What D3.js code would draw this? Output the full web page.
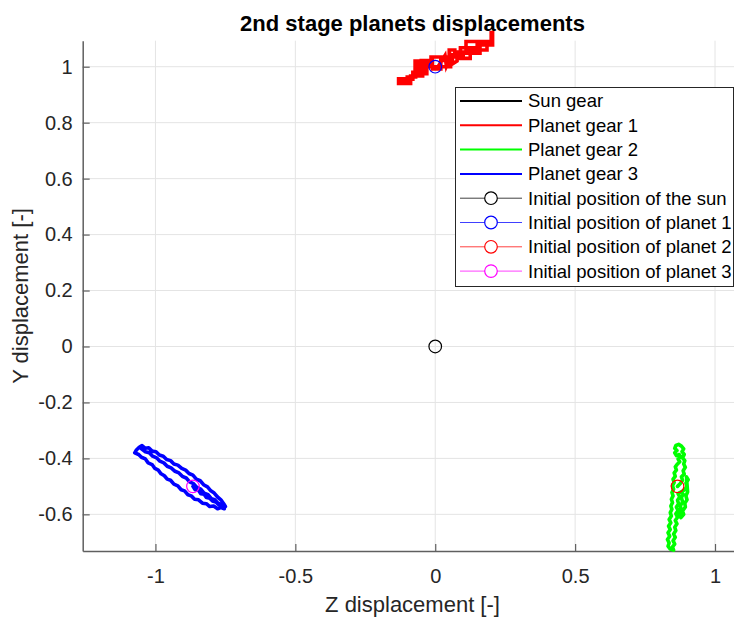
<!DOCTYPE html>
<html>
<head>
<meta charset="utf-8">
<script src="https://cdn.jsdelivr.net/npm/d3@7/dist/d3.min.js"></script>
<style>
  html, body { margin: 0; padding: 0; background: #fff; }
  svg { display: block; font-family: "Liberation Sans", Arial, Helvetica, sans-serif; }
</style>
</head>
<body>
<div id="chart"></div>
<script>
// Displacement traces of the 2nd stage gears, [Z, Y] pairs
const sunPath = [[0, 0], [0, 0]];

const planet1Path = [
  [0.000, 1.000], [-0.030, 1.000], [-0.030, 0.975], [-0.060, 0.975], [-0.060, 1.020],
  [-0.072, 1.020], [-0.072, 0.985], [-0.045, 0.985], [-0.045, 0.967], [-0.088, 0.967],
  [-0.088, 0.940], [-0.131, 0.940], [-0.131, 0.957], [-0.090, 0.957], [-0.090, 0.948],
  [-0.128, 0.948], [-0.128, 0.940], [-0.100, 0.940], [-0.100, 0.963], [-0.070, 0.963],
  [-0.070, 0.995], [-0.050, 0.995], [-0.050, 1.022], [-0.010, 1.022], [-0.010, 0.992],
  [0.020, 0.992], [0.020, 1.022], [0.055, 1.022], [0.055, 1.000], [0.010, 1.000],
  [0.035, 1.040], [0.040, 1.002], [0.060, 1.048], [0.062, 1.010], [0.078, 1.020],
  [0.078, 1.052], [0.125, 1.052], [0.125, 1.030], [0.090, 1.030], [0.090, 1.068],
  [0.150, 1.068], [0.150, 1.085], [0.185, 1.085], [0.185, 1.060], [0.110, 1.060],
  [0.110, 1.090], [0.200, 1.090], [0.200, 1.122], [0.205, 1.122], [0.205, 1.078],
  [0.160, 1.078], [0.160, 1.048], [0.100, 1.048], [0.100, 1.038], [0.050, 1.038],
  [0.050, 1.060], [0.070, 1.060], [0.070, 1.035], [0.020, 1.035], [-0.015, 1.035],
  [-0.015, 1.010], [-0.040, 1.010], [-0.040, 0.980], [-0.080, 0.980], [-0.080, 0.955],
  [-0.120, 0.955], [-0.120, 0.945]
];

const planet2Path = [
  [0.866, -0.500], [0.876, -0.490], [0.884, -0.478], [0.880, -0.466], [0.890, -0.456],
  [0.886, -0.444], [0.894, -0.432], [0.888, -0.420], [0.892, -0.408], [0.884, -0.398],
  [0.890, -0.386], [0.882, -0.376], [0.888, -0.366], [0.880, -0.356], [0.870, -0.350],
  [0.860, -0.354], [0.856, -0.364], [0.864, -0.372], [0.856, -0.380], [0.862, -0.390],
  [0.872, -0.386], [0.878, -0.396], [0.868, -0.402], [0.874, -0.412], [0.866, -0.420],
  [0.858, -0.430], [0.862, -0.442], [0.854, -0.452], [0.858, -0.464], [0.850, -0.474],
  [0.854, -0.486], [0.848, -0.498], [0.852, -0.510], [0.846, -0.522], [0.850, -0.534],
  [0.844, -0.546], [0.848, -0.558], [0.842, -0.570], [0.846, -0.582], [0.840, -0.594],
  [0.844, -0.606], [0.836, -0.618], [0.842, -0.630], [0.834, -0.642], [0.840, -0.654],
  [0.832, -0.666], [0.838, -0.678], [0.830, -0.690], [0.836, -0.702], [0.832, -0.714],
  [0.840, -0.724], [0.852, -0.728], [0.848, -0.716], [0.856, -0.706], [0.850, -0.694],
  [0.858, -0.682], [0.852, -0.670], [0.860, -0.658], [0.856, -0.646], [0.864, -0.634],
  [0.858, -0.622], [0.866, -0.610], [0.860, -0.598], [0.868, -0.586], [0.862, -0.574],
  [0.870, -0.562], [0.866, -0.550], [0.874, -0.538], [0.868, -0.526], [0.878, -0.520],
  [0.892, -0.512], [0.900, -0.500], [0.896, -0.488], [0.904, -0.476], [0.898, -0.466],
  [0.902, -0.520], [0.896, -0.534], [0.900, -0.548], [0.892, -0.560], [0.894, -0.574],
  [0.884, -0.588], [0.888, -0.600], [0.878, -0.612], [0.874, -0.600], [0.880, -0.586],
  [0.876, -0.570], [0.884, -0.556], [0.880, -0.540], [0.886, -0.528]
];

const planet3Path = [
  [-0.866, -0.500], [-0.858, -0.512], [-0.846, -0.514], [-0.838, -0.526], [-0.826, -0.528],
  [-0.818, -0.540], [-0.806, -0.542], [-0.796, -0.552], [-0.784, -0.556], [-0.774, -0.566],
  [-0.762, -0.570], [-0.754, -0.580], [-0.766, -0.576], [-0.778, -0.580], [-0.792, -0.570],
  [-0.806, -0.572], [-0.818, -0.562], [-0.832, -0.560], [-0.846, -0.548], [-0.860, -0.546],
  [-0.872, -0.534], [-0.884, -0.530], [-0.896, -0.516], [-0.908, -0.512], [-0.920, -0.498],
  [-0.934, -0.492], [-0.946, -0.478], [-0.958, -0.474], [-0.968, -0.462], [-0.980, -0.455],
  [-0.990, -0.442], [-1.002, -0.436], [-1.012, -0.422], [-1.026, -0.416], [-1.036, -0.402],
  [-1.050, -0.396], [-1.060, -0.386], [-1.074, -0.380], [-1.068, -0.370], [-1.058, -0.360],
  [-1.048, -0.354], [-1.036, -0.364], [-1.024, -0.362], [-1.012, -0.374], [-0.998, -0.376],
  [-0.986, -0.388], [-0.972, -0.392], [-0.960, -0.404], [-0.946, -0.408], [-0.934, -0.420],
  [-0.920, -0.424], [-0.906, -0.436], [-0.892, -0.442], [-0.880, -0.454], [-0.866, -0.460],
  [-0.854, -0.474], [-0.840, -0.480], [-0.828, -0.494], [-0.814, -0.502], [-0.802, -0.516],
  [-0.790, -0.524], [-0.778, -0.538], [-0.766, -0.548], [-0.756, -0.562], [-0.750, -0.572],
  [-0.762, -0.566], [-0.776, -0.560], [-0.788, -0.548], [-0.800, -0.544], [-0.812, -0.530],
  [-0.826, -0.524], [-0.838, -0.510], [-0.852, -0.504], [-0.864, -0.490], [-0.878, -0.484],
  [-0.890, -0.470], [-0.904, -0.464], [-0.916, -0.452], [-0.930, -0.446], [-0.944, -0.434],
  [-0.958, -0.428], [-0.970, -0.416], [-0.984, -0.410], [-0.996, -0.398], [-1.010, -0.392],
  [-1.022, -0.380], [-1.036, -0.376], [-1.050, -0.366]
];

// Initial positions [Z, Y]
const sunStart = [0, 0];
const planet1Start = [0, 1];
const planet2Start = [0.866, -0.5];
const planet3Start = [-0.866, -0.5];

const zTicks = [-1, -0.5, 0, 0.5, 1];
const yTicks = [-0.6, -0.4, -0.2, 0, 0.2, 0.4, 0.6, 0.8, 1];

const legendLabels = [
  "Sun gear", "Planet gear 1", "Planet gear 2", "Planet gear 3",
  "Initial position of the sun", "Initial position of planet 1",
  "Initial position of planet 2", "Initial position of planet 3"
];

const W = 734, H = 620;
const svg = d3.select("#chart").append("svg").attr("width", W).attr("height", H);

const x = d3.scaleLinear().domain([-1.26, 1.1]).range([82.7, 743]);
const y = d3.scaleLinear().domain([-0.731, 1.093]).range([551, 40.7]);

const axisColor = "#5f5f5f";
const gridColor = "#e4e4e4";

// grid
const grid = svg.append("g");
grid.selectAll("line.gx").data(zTicks).join("line")
  .attr("x1", d => x(d)).attr("x2", d => x(d))
  .attr("y1", y.range()[0]).attr("y2", y.range()[1])
  .attr("stroke", gridColor).attr("stroke-width", 1);
grid.selectAll("line.gy").data(yTicks).join("line")
  .attr("y1", d => y(d)).attr("y2", d => y(d))
  .attr("x1", x.range()[0]).attr("x2", x.range()[1])
  .attr("stroke", gridColor).attr("stroke-width", 1);

// axes
const xAxis = svg.append("g").attr("transform", `translate(0,${y.range()[0]})`)
  .call(d3.axisBottom(x).tickValues(zTicks).tickFormat(d => String(d))
    .tickSize(-7).tickSizeOuter(0).tickPadding(18));
const yAxis = svg.append("g").attr("transform", `translate(${x.range()[0]},0)`)
  .call(d3.axisLeft(y).tickValues(yTicks).tickFormat(d => String(d))
    .tickSize(-7).tickSizeOuter(0).tickPadding(10));
[xAxis, yAxis].forEach(g => {
  g.select(".domain").attr("stroke", axisColor).attr("stroke-width", 1.5);
  g.selectAll(".tick line").attr("stroke", axisColor).attr("stroke-width", 1.2);
  g.selectAll(".tick text").attr("fill", "#262626")
    .style("font-size", "20px").style("font-family", "'Liberation Sans', Arial, sans-serif");
});

// traces
const line = d3.line().x(d => x(d[0])).y(d => y(d[1]));
const traces = [
  { path: sunPath, color: "#000000", join: "round", cap: "butt" },
  { path: planet1Path, color: "#ff0000", join: "miter", cap: "square" },
  { path: planet2Path, color: "#00ff00", join: "round", cap: "round" },
  { path: planet3Path, color: "#0000ff", join: "round", cap: "round" }
];
svg.append("g").selectAll("path").data(traces).join("path")
  .attr("d", d => line(d.path))
  .attr("fill", "none").attr("stroke", d => d.color)
  .attr("stroke-width", 3.6).attr("stroke-linejoin", d => d.join).attr("stroke-linecap", d => d.cap);

// initial position markers
const markers = [
  { p: sunStart, color: "#000000" },
  { p: planet1Start, color: "#0000ff" },
  { p: planet2Start, color: "#ff0000" },
  { p: planet3Start, color: "#ff00ff" }
];
svg.append("g").selectAll("circle").data(markers).join("circle")
  .attr("cx", d => x(d.p[0])).attr("cy", d => y(d.p[1])).attr("r", 6.3)
  .attr("fill", "none").attr("stroke", d => d.color).attr("stroke-width", 1.2);

// title and axis labels
svg.append("text").attr("x", 412.5).attr("y", 31).attr("text-anchor", "middle")
  .style("font-size", "22px").style("font-weight", "bold").attr("fill", "#000")
  .text("2nd stage planets displacements");
svg.append("text").attr("x", 412.5).attr("y", 612).attr("text-anchor", "middle")
  .style("font-size", "22px").attr("fill", "#262626")
  .text("Z displacement [-]");
svg.append("text").attr("transform", "translate(28,296) rotate(-90)").attr("text-anchor", "middle")
  .style("font-size", "22px").attr("fill", "#262626")
  .text("Y displacement [-]");

// legend
const legendColors = ["#000000", "#ff0000", "#00ff00", "#0000ff", "#000000", "#0000ff", "#ff0000", "#ff00ff"];
const lg = svg.append("g");
lg.append("rect").attr("x", 455.5).attr("y", 87.5).attr("width", 278).attr("height", 199)
  .attr("fill", "#fff").attr("stroke", "#262626").attr("stroke-width", 1);
const rowY = i => 101 + i * 24.3;
legendLabels.forEach((lab, i) => {
  const isMarker = i >= 4;
  lg.append("line").attr("x1", 460).attr("x2", 522).attr("y1", rowY(i)).attr("y2", rowY(i))
    .attr("stroke", legendColors[i]).attr("stroke-width", isMarker ? 1 : 2)
    .attr("stroke-opacity", isMarker ? 0.75 : 1);
  if (isMarker) {
    lg.append("circle").attr("cx", 491).attr("cy", rowY(i)).attr("r", 6.3)
      .attr("fill", "#fff").attr("stroke", legendColors[i]).attr("stroke-width", 1.2);
  }
  lg.append("text").attr("x", 528).attr("y", rowY(i)).attr("dy", "0.35em")
    .style("font-size", "18.5px").attr("fill", "#000").text(lab);
});
</script>
</body>
</html>
